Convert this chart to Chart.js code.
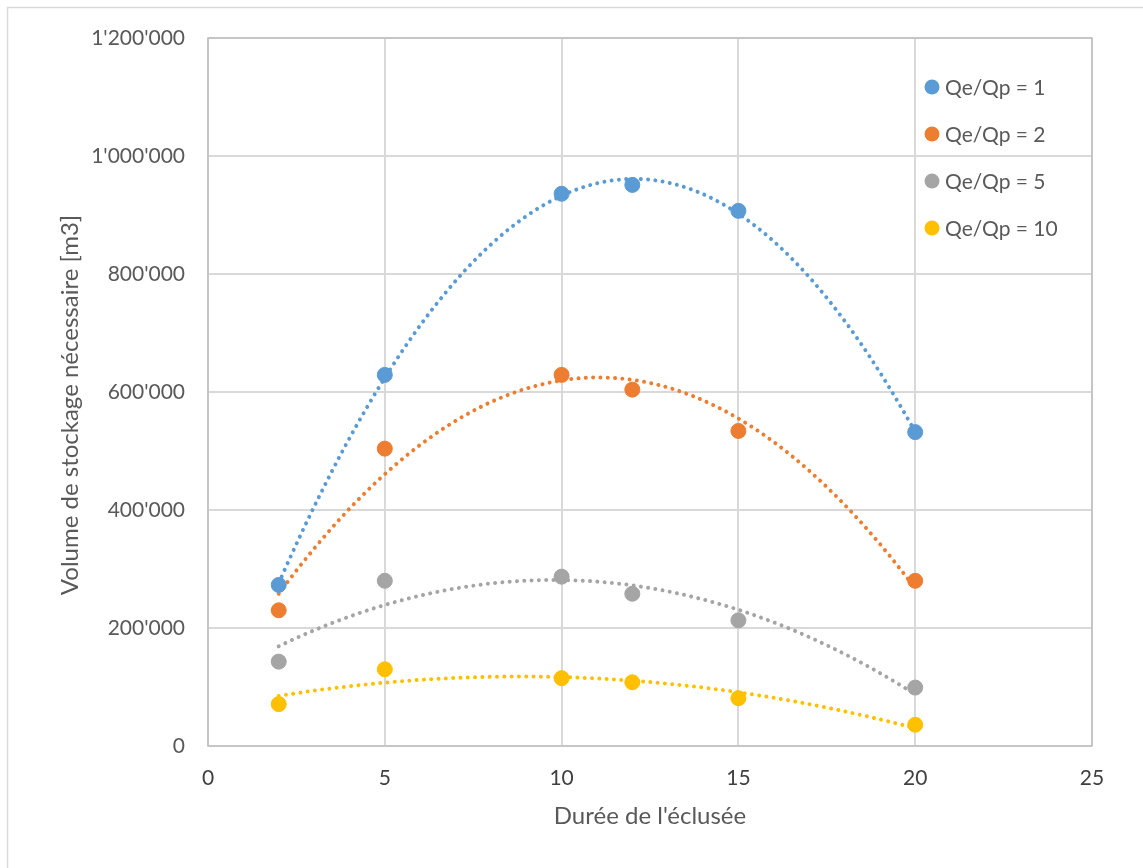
<!DOCTYPE html>
<html>
<head>
<meta charset="utf-8">
<script src="https://cdn.jsdelivr.net/npm/chart.js@4.4.1/dist/chart.umd.min.js"></script>
<style>
  html, body { margin: 0; padding: 0; background: #fff; }
  #wrap { width: 1143px; height: 868px; position: relative; }
</style>
</head>
<body>
<div id="wrap"><canvas id="myChart" width="1143" height="868"></canvas></div>
<script>
// durée de l'éclusée [h]
const durees = [2, 5, 10, 12, 15, 20];

// volume de stockage nécessaire [m3] pour chaque rapport Qe/Qp
const volQ1 = [273000, 629000, 936000, 951000, 907000, 532000];
const volQ2 = [230000, 504000, 629000, 604000, 534000, 280000];
const volQ5 = [143000, 280000, 287000, 258000, 213000, 99000];
const volQ10 = [71000, 130000, 115000, 108000, 81000, 36000];

const seriesLabels = ["Qe/Qp = 1", "Qe/Qp = 2", "Qe/Qp = 5", "Qe/Qp = 10"];
const seriesColors = ["#5b9bd5", "#ed7d31", "#a5a5a5", "#ffc000"];

const xTicks = [0, 5, 10, 15, 20, 25];
const yTicks = [0, 200000, 400000, 600000, 800000, 1000000, 1200000];

const FONT = "Lato, 'Open Sans', sans-serif";

function formatApos(v) {
  return String(v).replace(/\B(?=(\d{3})+(?!\d))/g, "'");
}

// least squares fit, polynomial order 2 -> [c0, c1, c2]
function polyFit2(xs, ys) {
  let s = [0, 0, 0, 0, 0], t = [0, 0, 0];
  for (let i = 0; i < xs.length; i++) {
    let p = 1;
    for (let k = 0; k < 5; k++) { s[k] += p; if (k < 3) t[k] += p * ys[i]; p *= xs[i]; }
  }
  const m = [
    [s[0], s[1], s[2], t[0]],
    [s[1], s[2], s[3], t[1]],
    [s[2], s[3], s[4], t[2]]
  ];
  for (let c = 0; c < 3; c++) {
    for (let r = c + 1; r < 3; r++) {
      const f = m[r][c] / m[c][c];
      for (let k = c; k < 4; k++) m[r][k] -= f * m[c][k];
    }
  }
  const out = [0, 0, 0];
  for (let r = 2; r >= 0; r--) {
    let v = m[r][3];
    for (let k = r + 1; k < 3; k++) v -= m[r][k] * out[k];
    out[r] = v / m[r][r];
  }
  return out;
}

const allSeries = [volQ1, volQ2, volQ5, volQ10];

const datasets = allSeries.map((vals, i) => ({
  label: seriesLabels[i],
  data: durees.map((d, j) => ({ x: d, y: vals[j] })),
  backgroundColor: seriesColors[i],
  borderColor: seriesColors[i],
  pointRadius: 7.5,
  pointHoverRadius: 7.5,
  showLine: false
}));

// dotted trendlines under the points
const trendPlugin = {
  id: "trend",
  beforeDatasetsDraw(chart) {
    const ctx = chart.ctx;
    const xs = chart.scales.x, ys = chart.scales.y;
    ctx.save();
    ctx.lineWidth = 4;
    ctx.lineCap = "round";
    ctx.setLineDash([0.01, 7.3]);
    allSeries.forEach((vals, i) => {
      const c = polyFit2(durees, vals);
      const p0 = xs.getPixelForValue(durees[0]);
      const p1 = xs.getPixelForValue(durees[durees.length - 1]);
      ctx.beginPath();
      for (let px = p0; px <= p1 + 0.01; px += 1) {
        const v = xs.getValueForPixel(px);
        const py = ys.getPixelForValue(c[0] + c[1] * v + c[2] * v * v);
        if (px === p0) ctx.moveTo(px, py); else ctx.lineTo(px, py);
      }
      ctx.strokeStyle = seriesColors[i];
      ctx.stroke();
    });
    ctx.restore();
  }
};

// frames, y title + legend drawn inside the plot area
const framePlugin = {
  id: "frame",
  beforeDraw(chart) {
    const ctx = chart.ctx;
    ctx.save();
    ctx.fillStyle = "#fff";
    ctx.fillRect(0, 0, chart.width, chart.height);
    ctx.strokeStyle = "#d9d9d9";
    ctx.lineWidth = 1.5;
    ctx.strokeRect(7.5, 7.5, 1300, 1000);
    ctx.restore();
  },
  afterDraw(chart) {
    const ctx = chart.ctx;
    const a = chart.chartArea;
    ctx.save();
    ctx.strokeStyle = "#bfbfbf";
    ctx.lineWidth = 1.5;
    ctx.strokeRect(a.left, a.top, a.right - a.left, a.bottom - a.top);

    ctx.save();
    ctx.translate(70, 405);
    ctx.rotate(-Math.PI / 2);
    ctx.font = "24px " + FONT;
    ctx.fillStyle = "#595959";
    ctx.textAlign = "center";
    ctx.textBaseline = "middle";
    ctx.fillText("Volume de stockage nécessaire [m3]", 0, 0);
    ctx.restore();

    ctx.font = "21px " + FONT;
    ctx.textBaseline = "middle";
    ctx.textAlign = "left";
    seriesLabels.forEach((lab, i) => {
      const y = 87 + i * 47;
      ctx.beginPath();
      ctx.arc(932, y, 7.5, 0, Math.PI * 2);
      ctx.fillStyle = seriesColors[i];
      ctx.fill();
      ctx.fillStyle = "#595959";
      ctx.fillText(lab, 945, y + 1);
    });
    ctx.restore();
  }
};

new Chart(document.getElementById("myChart").getContext("2d"), {
  type: "scatter",
  data: { datasets },
  plugins: [trendPlugin, framePlugin],
  options: {
    responsive: false,
    animation: false,
    events: [],
    layout: { padding: { left: 0, right: 51, top: 38, bottom: 0 } },
    plugins: {
      legend: { display: false },
      tooltip: { enabled: false }
    },
    scales: {
      x: {
        type: "linear",
        min: 0,
        max: 25,
        afterFit: (s) => { s.height = 122; },
        afterBuildTicks: (s) => { s.ticks = xTicks.map((v) => ({ value: v })); },
        grid: { color: "#d9d9d9", lineWidth: 2, drawTicks: false },
        border: { display: false },
        ticks: { color: "#404040", font: { family: FONT, size: 21 }, padding: 20 },
        title: {
          display: true,
          text: "Durée de l'éclusée",
          color: "#595959",
          font: { family: FONT, size: 24 },
          padding: { top: 0, bottom: 37 }
        }
      },
      y: {
        type: "linear",
        min: 0,
        max: 1200000,
        afterFit: (s) => { s.width = 208; },
        afterBuildTicks: (s) => { s.ticks = yTicks.map((v) => ({ value: v })); },
        grid: { color: "#d9d9d9", lineWidth: 2, drawTicks: false },
        border: { display: false },
        ticks: {
          color: "#595959",
          font: { family: FONT, size: 21 },
          padding: 23,
          callback: (v) => formatApos(v)
        }
      }
    }
  }
});
</script>
</body>
</html>
